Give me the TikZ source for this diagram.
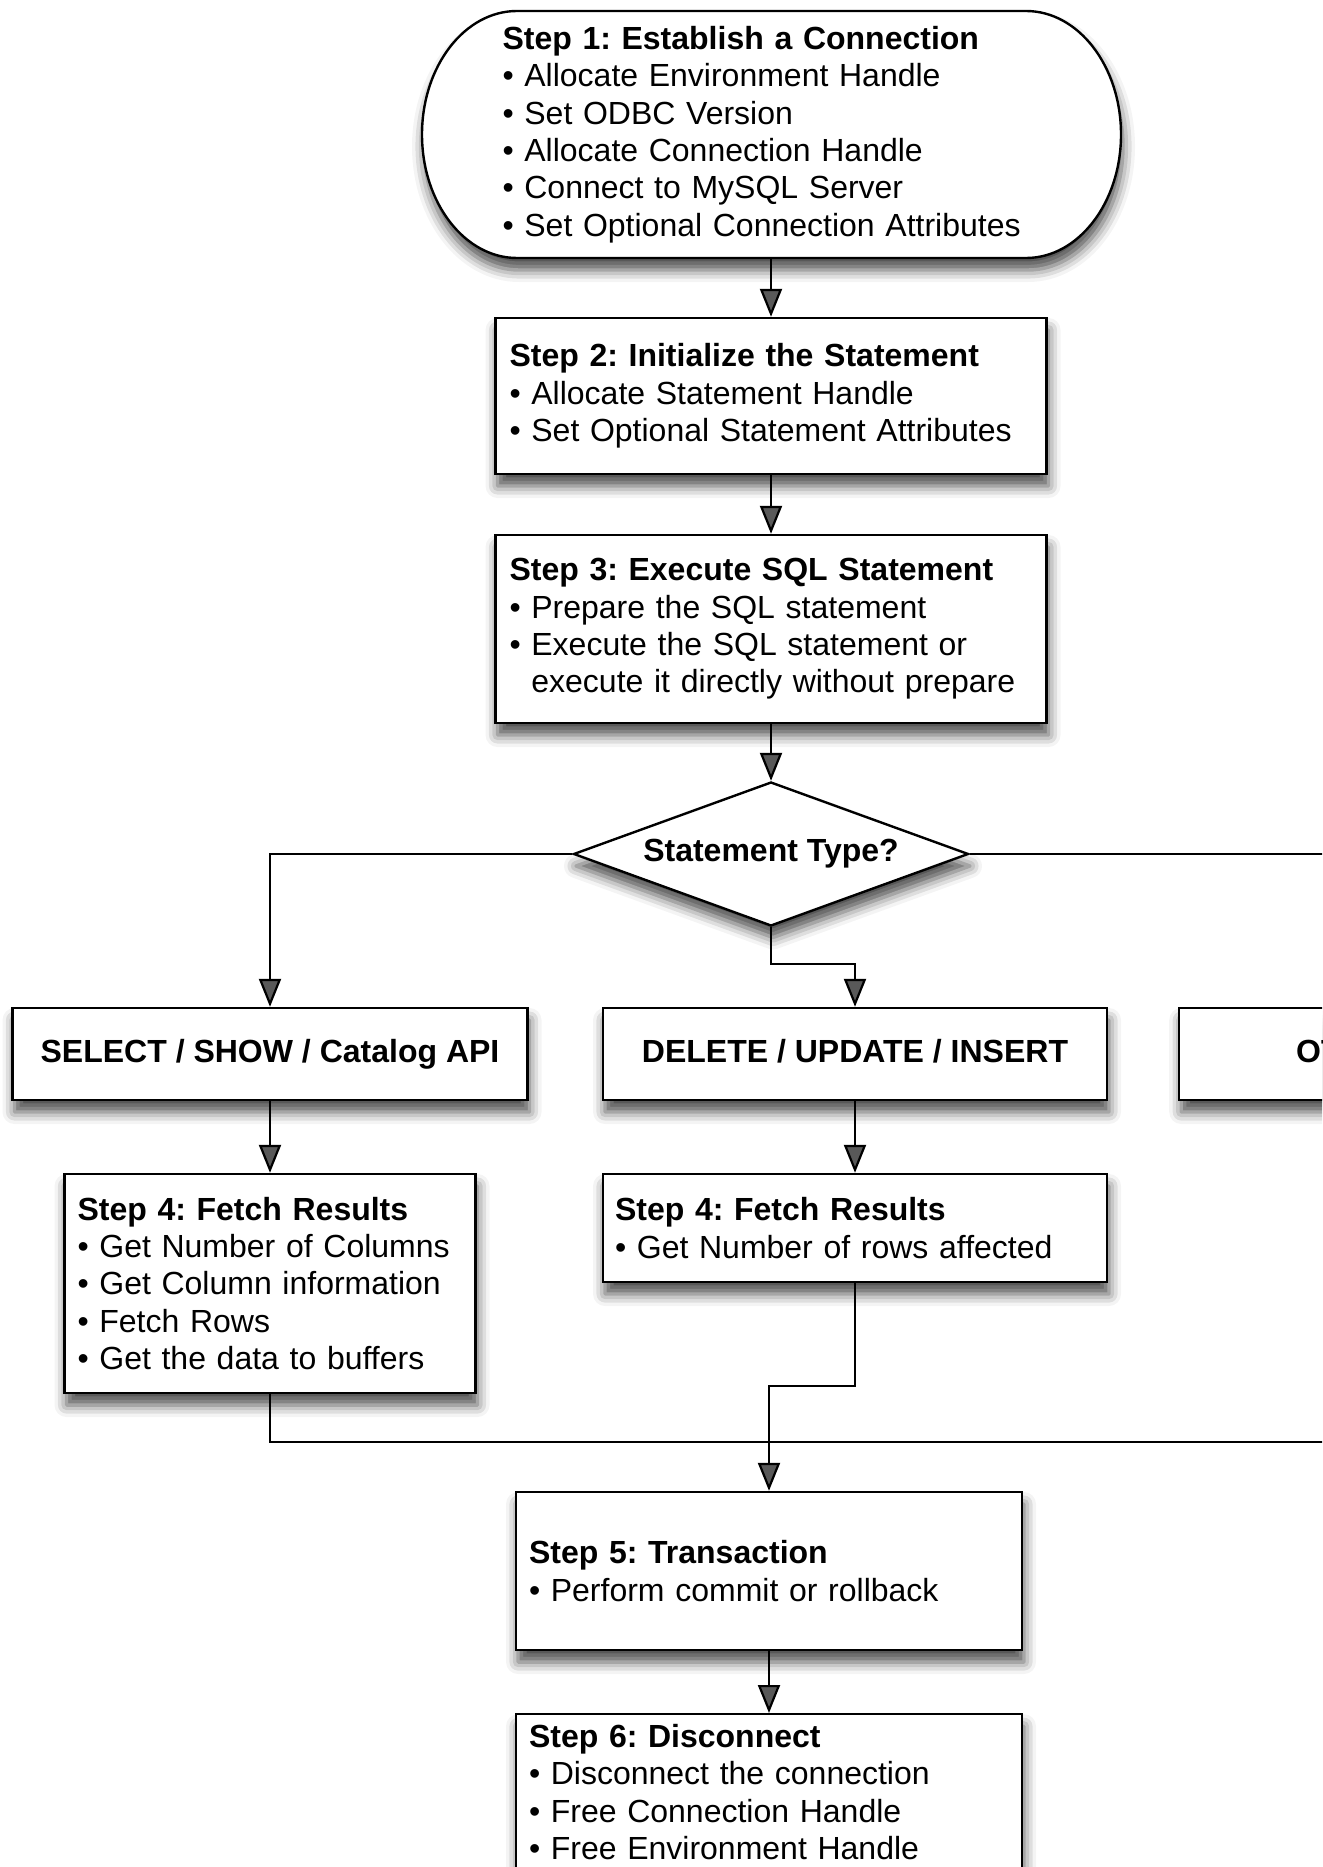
\documentclass[tikz,border=0pt]{standalone}
\usepackage{fontspec}
\setmainfont{Liberation Sans}
\frenchspacing
\usetikzlibrary{shapes.geometric,arrows.meta,shadows.blur}

\tikzset{
  boxshadow/.style={blur shadow={shadow xshift=1pt, shadow yshift=-6pt, shadow blur radius=6pt, shadow opacity=70}},
  stepbox/.style={draw, line width=1.2pt, fill=white, boxshadow, align=left, inner xsep=7pt, inner ysep=0pt, font=\fontsize{16}{18.65}\selectfont},
  kindbox/.style={stepbox, align=center, minimum height=46pt, text height=12pt, text depth=3.5pt, font=\fontsize{16}{18.65}\selectfont\bfseries},
  choice/.style={diamond, draw, line width=1.2pt, fill=white, boxshadow, aspect=2.7, inner sep=0pt, minimum width=197.5pt, minimum height=72pt, font=\fontsize{16}{18.65}\selectfont\bfseries},
  flow/.style={line width=1.1pt, -{Triangle[length=14pt,width=11pt]}},
  link/.style={line width=1.1pt},
}

\begin{document}
\begin{tikzpicture}[x=0.5pt, y=-0.5pt]
  \useasboundingbox (0,0) rectangle (1322,1867);
  \clip (0,0) rectangle (1322,1867);

  % step 1 outline
  \draw[line width=1.2pt, fill=white, boxshadow] (517,11) -- (1026,11)
    arc[start angle=90, end angle=-90, x radius=47.5pt, y radius=61.75pt] -- (517,258)
    arc[start angle=270, end angle=90, x radius=47.5pt, y radius=61.75pt] -- cycle;
  \node (conn) [align=left, inner xsep=40.5pt, inner ysep=0pt, text width=268.5pt, minimum height=123.5pt,
    font=\fontsize{16}{18.65}\selectfont] at (771,134.5)
    {\textbf{Step 1: Establish a Connection}\\
     \textbullet\ Allocate Environment Handle\\
     \textbullet\ Set ODBC Version\\
     \textbullet\ Allocate Connection Handle\\
     \textbullet\ Connect to MySQL Server\\
     \textbullet\ Set Optional Connection Attributes};

  \node (step2) [stepbox, text width=261.5pt, minimum height=78pt] at (771,396)
    {\textbf{Step 2: Initialize the Statement}\\
     \textbullet\ Allocate Statement Handle\\
     \textbullet\ Set Optional Statement Attributes};

  \node (step3) [stepbox, text width=261.5pt, minimum height=94pt] at (771,629)
    {\textbf{Step 3: Execute SQL Statement}\\
     \textbullet\ Prepare the SQL statement\\
     \textbullet\ Execute the SQL statement or\\
     \phantom{\textbullet\ }execute it directly without prepare};

  \node (type) [choice] at (771,854) {Statement Type?};

  \node (select) [kindbox, minimum width=257.5pt] at (270,1054) {SELECT / SHOW / Catalog API};
  \node (delete) [kindbox, minimum width=252pt] at (855,1054) {DELETE / UPDATE / INSERT};
  \node (other) [kindbox, anchor=west, align=left, text width=135pt, inner xsep=58.5pt] at (1178,1054) {OTHER};

  \node (fetchA) [stepbox, inner xsep=6.5pt, text width=192.5pt, minimum height=109.5pt] at (270,1283.5)
    {\textbf{Step 4: Fetch Results}\\
     \textbullet\ Get Number of Columns\\
     \textbullet\ Get Column information\\
     \textbullet\ Fetch Rows\\
     \textbullet\ Get the data to buffers};

  \node (fetchB) [stepbox, inner xsep=6pt, text width=240pt, minimum height=54pt] at (855,1228)
    {\textbf{Step 4: Fetch Results}\\
     \textbullet\ Get Number of rows affected};

  \node (commit) [stepbox, inner xsep=6.5pt, text width=240pt, minimum height=79pt] at (769,1571)
    {\textbf{Step 5: Transaction}\\
     \textbullet\ Perform commit or rollback};

  \node (disc) [stepbox, anchor=north, inner xsep=6.5pt, inner ysep=5pt, text width=240pt] at (769,1713)
    {\textbf{Step 6: Disconnect}\\
     \textbullet\ Disconnect the connection\\
     \textbullet\ Free Connection Handle\\
     \textbullet\ Free Environment Handle};

  \coordinate (merge) at (769,1442);

  \draw[flow] (conn) -- (step2);
  \draw[flow] (step2) -- (step3);
  \draw[flow] (step3) -- (type);
  \draw[flow] (type.west) -| (select.north);
  \draw[flow] (type.south) -- ++(0,37) -| (delete.north);
  \draw[flow] (type.east) -| (other.north);
  \draw[flow] (select) -- (fetchA);
  \draw[flow] (delete) -- (fetchB);
  \draw[link] (fetchA.south) |- (merge);
  \draw[link] (other.south) |- (merge);
  \draw[flow] (fetchB.south) -- ++(0,103) -| (commit.north);
  \draw[flow] (commit) -- (disc);
\end{tikzpicture}
\end{document}
